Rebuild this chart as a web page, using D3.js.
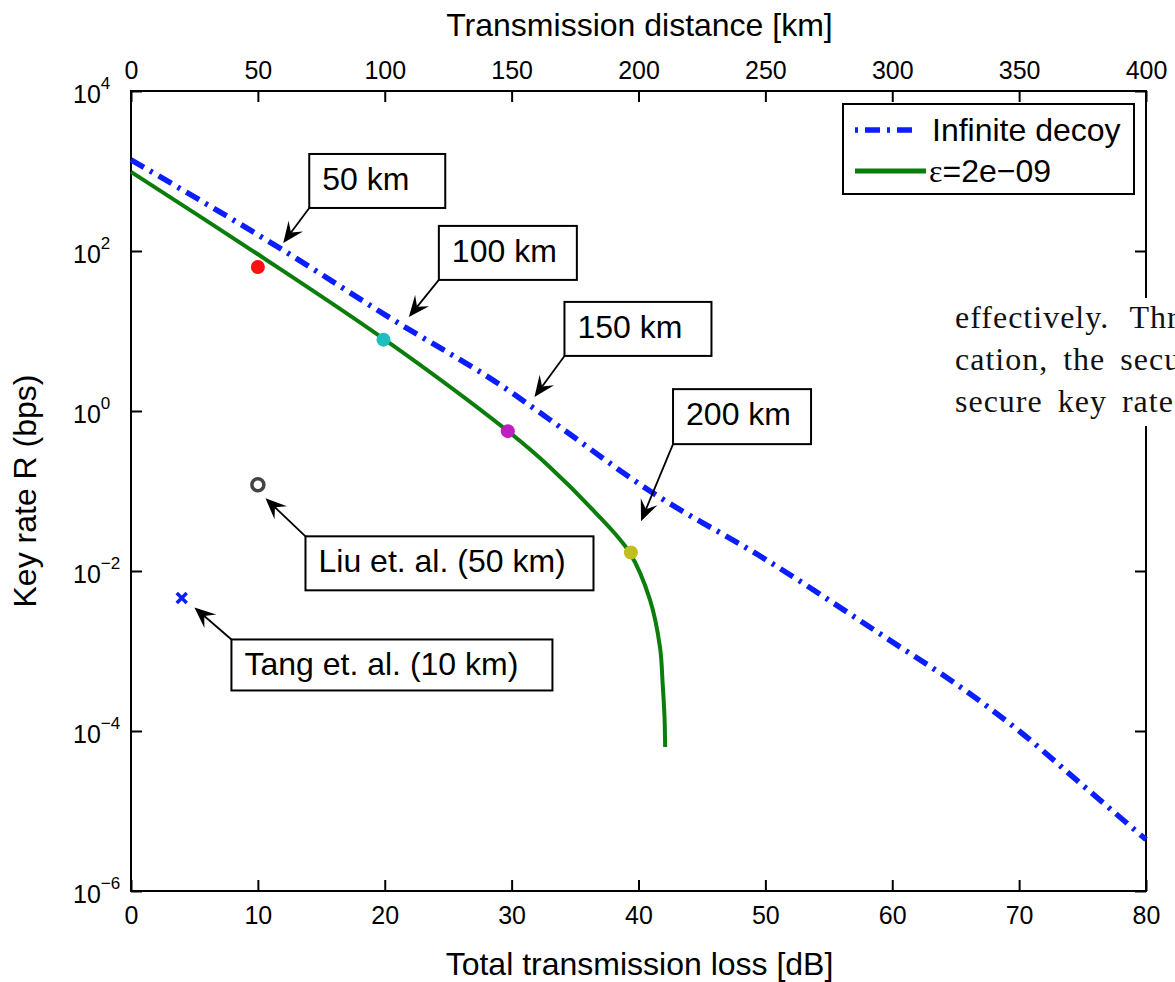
<!DOCTYPE html>
<html>
<head>
<meta charset="utf-8">
<script src="https://cdn.jsdelivr.net/npm/d3@7"></script>
<style>
body{margin:0;background:#fff;}
svg{display:block;font-family:"Liberation Sans",Arial,Helvetica,sans-serif;}
</style>
</head>
<body>
<script>
// ---- data ----
const lossTicks=[0,10,20,30,40,50,60,70,80];
const distTicks=[0,50,100,150,200,250,300,350,400];
const rateExp=[-6,-4,-2,0,2,4];

// infinite decoy (dash-dot blue)
const decoyLoss=[0,12,20,30,33,40.9,50,60,65,70,75,80];
const decoyRate=[1380,102,16,1.7,0.78,0.10,0.014,1.3e-3,3.9e-4,1.0e-4,2.1e-5,4.4e-6];
// finite size eps=2e-09 (green)
const finiteLoss=[0,10,20,29.7,33,36.4,39.3,40.9,41.7,41.9,42.05,42.1];
const finiteRate=[977,91,7.8,0.56,0.2,0.058,0.017,0.0044,0.0011,4e-4,1.5e-4,6.3e-5];
// coloured points on green curve
const dotLoss=[10,19.9,29.7,39.4];
const dotRate=[63,7.8,0.56,0.017];
const dotColor=["#ff1010","#1fbfbf","#bf1fbf","#bfbf1f"];
// experiments
const liu={loss:10,rate:0.12};
const tang={loss:4,rate:0.0046};

// annotations: text, arrow tip (data)
const annText=["50 km","100 km","150 km","200 km","Liu et. al. (50 km)","Tang et. al. (10 km)"];
const annLoss=[12.0,21.9,31.8,40.2,10.6,5.0];
const annRate=[126,15,1.5,0.042,0.081,0.0035];
// layout of boxes: offset tail from tip, box size, box anchored below/above tail
const annLayout=[
  {dx:26,dy:-35,w:136,h:54,up:true},
  {dx:30,dy:-37,w:138,h:54,up:true},
  {dx:30,dy:-41,w:147,h:54,up:true},
  {dx:32,dy:-77,w:138,h:55,up:true},
  {dx:40,dy:38,w:288,h:54,up:false},
  {dx:37,dy:32,w:321,h:51,up:false}
];

const W=1175,H=982;
const L=131,R=1146,T=91,B=891;

const svg=d3.select("body").append("svg").attr("width",W).attr("height",H);

const x=d3.scaleLinear().domain([0,80]).range([L,R]);
const xTop=d3.scaleLinear().domain([0,400]).range([L,R]);
const y=d3.scaleLog().domain([1e-6,1e4]).range([B,T]);

// axes
const gb=svg.append("g").attr("transform",`translate(0,${B})`)
  .call(d3.axisBottom(x).tickValues(lossTicks).tickSizeInner(-11).tickSizeOuter(0).tickPadding(15));
const gt=svg.append("g").attr("transform",`translate(0,${T})`)
  .call(d3.axisTop(xTop).tickValues(distTicks).tickSizeInner(-11).tickSizeOuter(0).tickPadding(12));
const gl=svg.append("g").attr("transform",`translate(${L},0)`)
  .call(d3.axisLeft(y).tickValues(rateExp.map(e=>Math.pow(10,e))).tickSizeInner(-11).tickSizeOuter(0));
const gr=svg.append("g").attr("transform",`translate(${R},0)`)
  .call(d3.axisRight(y).tickValues(rateExp.map(e=>Math.pow(10,e))).tickSizeInner(-11).tickSizeOuter(0).tickFormat(""));

[gb,gt,gl,gr].forEach(g=>{
  g.select(".domain").remove();
  g.selectAll(".tick line").attr("stroke","#000").attr("stroke-width",2);
  g.selectAll("text").attr("font-size",25).attr("fill","#000")
    .attr("font-family","Liberation Sans,Arial,sans-serif");
});

// left labels as 10^n
gl.selectAll(".tick text").each(function(d){
  const e=Math.round(Math.log10(d));
  const t=d3.select(this).text(null).attr("text-anchor","start").attr("x",73-L).attr("dy",null).attr("y",11);
  t.append("tspan").text("10");
  t.append("tspan").attr("dy",-14).attr("font-size",17).text(e<0?"\u2212"+(-e):String(e));
});

// frame
svg.append("rect").attr("x",L).attr("y",T).attr("width",R-L).attr("height",B-T)
  .attr("fill","none").attr("stroke","#000").attr("stroke-width",2);

// axis titles
svg.append("text").attr("x",(L+R)/2+1).attr("y",36).attr("text-anchor","middle")
  .attr("font-size",32).text("Transmission distance [km]");
svg.append("text").attr("x",(L+R)/2+1).attr("y",975).attr("text-anchor","middle")
  .attr("font-size",32).text("Total transmission loss [dB]");
svg.append("text").attr("transform",`translate(36,${(T+B)/2}) rotate(-90)`).attr("text-anchor","middle")
  .attr("font-size",32).text("Key rate R (bps)");

// curves
const decoy=d3.zip(decoyLoss,decoyRate);
const finite=d3.zip(finiteLoss,finiteRate);
const line=d3.line().x(d=>x(d[0])).y(d=>y(d[1]));

svg.append("path").datum(finite).attr("d",line.curve(d3.curveCatmullRom.alpha(0.5))).attr("fill","none")
  .attr("stroke","#0a7d0a").attr("stroke-width",4);
svg.append("path").datum(decoy).attr("d",line.curve(d3.curveMonotoneX)).attr("fill","none")
  .attr("stroke","#0a1eff").attr("stroke-width",5.5).attr("stroke-dasharray","15 7 3 7");

// markers
svg.selectAll("circle.dot").data(d3.range(dotLoss.length)).enter().append("circle")
  .attr("class","dot").attr("cx",i=>x(dotLoss[i])).attr("cy",i=>y(dotRate[i]))
  .attr("r",7).attr("fill",i=>dotColor[i]);
svg.append("circle").attr("cx",x(liu.loss)).attr("cy",y(liu.rate)).attr("r",6)
  .attr("fill","none").attr("stroke","#444").attr("stroke-width",3.5);
svg.append("path").attr("transform",`translate(${x(tang.loss)},${y(tang.rate)})`)
  .attr("d","M-5,-5L5,5M-5,5L5,-5").attr("stroke","#0a1eff").attr("stroke-width",3.5);

// annotations
annText.forEach((txt,i)=>{
  const lay=annLayout[i];
  const tx=x(annLoss[i]),ty=y(annRate[i]);
  const sx=tx+lay.dx,sy=ty+lay.dy;
  const g=svg.append("g");
  const bx=sx, by=lay.up?sy-lay.h:sy;
  g.append("rect").attr("x",bx).attr("y",by).attr("width",lay.w).attr("height",lay.h)
    .attr("fill","#fff").attr("stroke","#000").attr("stroke-width",2);
  g.append("text").attr("x",bx+13).attr("y",by+36).attr("font-size",32).text(txt);
  // arrow shaft + swept-back head
  const ang=Math.atan2(ty-sy,tx-sx);
  const hl=21,hw=9,nl=13;
  const ca=Math.cos(ang),sa=Math.sin(ang);
  g.append("line").attr("x1",sx).attr("y1",sy).attr("x2",tx-ca*nl).attr("y2",ty-sa*nl)
    .attr("stroke","#000").attr("stroke-width",1.8);
  const p=(a,b)=>[tx-ca*a-sa*b,ty-sa*a+ca*b];
  const pts=[[tx,ty],p(hl,hw),p(nl,0),p(hl,-hw)];
  g.append("path").attr("d","M"+pts.map(q=>q.join(",")).join("L")+"Z").attr("fill","#000");
});

// legend
const lg=svg.append("g");
lg.append("rect").attr("x",843).attr("y",104).attr("width",291).attr("height",90)
  .attr("fill","#fff").attr("stroke","#000").attr("stroke-width",2);
lg.append("line").attr("x1",855).attr("x2",917).attr("y1",130).attr("y2",130)
  .attr("stroke","#0a1eff").attr("stroke-width",5.5).attr("stroke-dasharray","15 7 3 7").attr("stroke-dashoffset",22);
lg.append("text").attr("x",932).attr("y",141).attr("font-size",32).text("Infinite decoy");
lg.append("line").attr("x1",855).attr("x2",926).attr("y1",171).attr("y2",171)
  .attr("stroke","#0a7d0a").attr("stroke-width",5);
const et=lg.append("text").attr("x",929).attr("y",182).attr("font-size",32);
et.append("tspan").attr("font-family","Liberation Serif,DejaVu Serif,serif").text("\u03b5");
et.append("tspan").text("=2e\u221209");

// overlapping page text (from the source document, clipped at the page edge as in the reference)
const pageLines=["effectively. Thr","cation, the secu","secure key rate"];
const pageWordSpacing=[12,6,6];
svg.append("rect").attr("x",942).attr("y",298).attr("width",W-942).attr("height",128).attr("fill","#fff");
pageLines.forEach((s,i)=>{
  svg.append("text").attr("x",955).attr("y",328+i*42)
    .attr("font-family","Liberation Serif,Times New Roman,serif").attr("font-size",32)
    .attr("letter-spacing",1).attr("word-spacing",pageWordSpacing[i]).attr("fill","#111").text(s);
});
</script>
</body>
</html>
